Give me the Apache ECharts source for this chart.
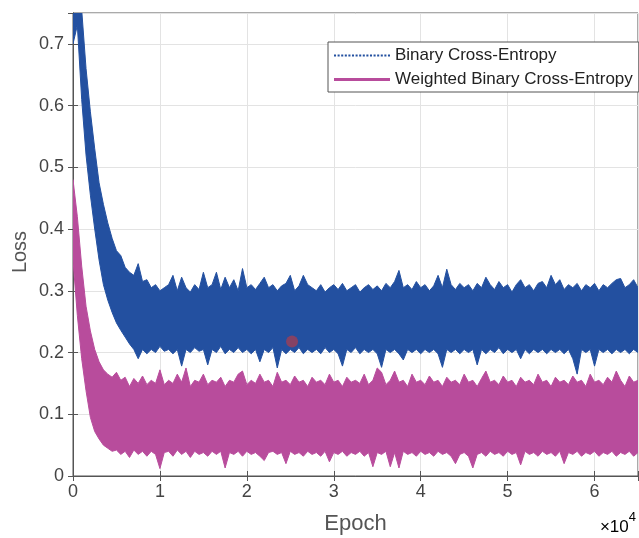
<!DOCTYPE html>
<html>
<head>
<meta charset="utf-8">
<script src="https://cdn.jsdelivr.net/npm/echarts@6/dist/echarts.min.js"></script>
<style>
html, body { margin: 0; padding: 0; background: #fff; }
#chart { width: 639px; height: 538px; }
</style>
</head>
<body>
<div id="chart"></div>
<script>
// sample spacing along the epoch axis (one high/low pair per step)
var step = 500;
var xTicks = ['0', '1', '2', '3', '4', '5', '6'];
var seriesNames = ['Binary Cross-Entropy', 'Weighted Binary Cross-Entropy'];

// local max / min of the BCE curve, every 500 epochs
var bceHigh = [0.85, 0.80, 0.755, 0.66, 0.59, 0.53, 0.475, 0.44, 0.41, 0.385,
    0.365, 0.357, 0.338, 0.33, 0.325, 0.344, 0.315, 0.318, 0.305, 0.31,
    0.30, 0.305, 0.31, 0.325, 0.30, 0.322, 0.305, 0.298, 0.31, 0.302,
    0.33, 0.305, 0.31, 0.33, 0.302, 0.322, 0.305, 0.318, 0.30, 0.336,
    0.305, 0.31, 0.302, 0.312, 0.322, 0.305, 0.31, 0.30, 0.308, 0.312,
    0.325, 0.30, 0.308, 0.325, 0.31, 0.305, 0.30, 0.31, 0.298, 0.305,
    0.31, 0.302, 0.312, 0.30, 0.305, 0.31, 0.298, 0.305, 0.31, 0.302,
    0.308, 0.30, 0.312, 0.305, 0.315, 0.333, 0.305, 0.31, 0.302, 0.315,
    0.305, 0.31, 0.30, 0.308, 0.325, 0.305, 0.335, 0.31, 0.302, 0.312,
    0.305, 0.31, 0.30, 0.312, 0.305, 0.322, 0.31, 0.302, 0.315, 0.305,
    0.31, 0.298, 0.31, 0.318, 0.305, 0.31, 0.30, 0.312, 0.315, 0.305,
    0.325, 0.31, 0.318, 0.302, 0.31, 0.305, 0.312, 0.30, 0.31, 0.305,
    0.312, 0.30, 0.31, 0.305, 0.312, 0.318, 0.32, 0.305, 0.31, 0.318, 0.305];
var bceLow = [0.70, 0.73, 0.61, 0.52, 0.455, 0.40, 0.35, 0.31, 0.285, 0.265,
    0.248, 0.236, 0.225, 0.214, 0.205, 0.19, 0.205, 0.198, 0.205, 0.20,
    0.21, 0.202, 0.205, 0.198, 0.205, 0.178, 0.205, 0.20, 0.208, 0.202,
    0.205, 0.18, 0.205, 0.20, 0.21, 0.198, 0.205, 0.20, 0.208, 0.20,
    0.205, 0.198, 0.205, 0.185, 0.205, 0.20, 0.208, 0.175, 0.205, 0.198,
    0.205, 0.20, 0.208, 0.198, 0.205, 0.20, 0.205, 0.198, 0.208, 0.20,
    0.205, 0.198, 0.178, 0.205, 0.20, 0.208, 0.198, 0.205, 0.20, 0.205,
    0.198, 0.176, 0.205, 0.20, 0.205, 0.198, 0.188, 0.205, 0.20, 0.205,
    0.198, 0.205, 0.20, 0.205, 0.198, 0.176, 0.205, 0.20, 0.205, 0.198,
    0.205, 0.20, 0.205, 0.18, 0.205, 0.198, 0.205, 0.20, 0.208, 0.198,
    0.205, 0.20, 0.205, 0.19, 0.205, 0.198, 0.205, 0.20, 0.205, 0.198,
    0.205, 0.20, 0.205, 0.198, 0.205, 0.19, 0.165, 0.205, 0.20, 0.205,
    0.178, 0.205, 0.20, 0.205, 0.198, 0.205, 0.20, 0.205, 0.198, 0.205, 0.20];

// local max / min of the weighted BCE curve
var wbceHigh = [0.48, 0.42, 0.34, 0.275, 0.235, 0.205, 0.185, 0.172, 0.165, 0.16,
    0.168, 0.155, 0.16, 0.145, 0.158, 0.15, 0.162, 0.148, 0.155, 0.15,
    0.172, 0.148, 0.155, 0.15, 0.165, 0.152, 0.175, 0.145, 0.155, 0.152,
    0.165, 0.148, 0.155, 0.152, 0.16, 0.145, 0.155, 0.152, 0.165, 0.17,
    0.148, 0.155, 0.15, 0.165, 0.152, 0.155, 0.145, 0.168, 0.152, 0.155,
    0.148, 0.162, 0.152, 0.155, 0.145, 0.16, 0.152, 0.155, 0.148, 0.165,
    0.152, 0.155, 0.145, 0.16, 0.152, 0.155, 0.15, 0.165, 0.148, 0.155,
    0.175, 0.168, 0.148, 0.155, 0.17, 0.152, 0.155, 0.145, 0.165, 0.152,
    0.155, 0.148, 0.162, 0.152, 0.155, 0.145, 0.16, 0.152, 0.155, 0.148,
    0.165, 0.152, 0.155, 0.145, 0.158, 0.17, 0.152, 0.155, 0.148, 0.162,
    0.152, 0.155, 0.145, 0.16, 0.152, 0.155, 0.148, 0.165, 0.152, 0.155,
    0.145, 0.16, 0.152, 0.155, 0.148, 0.162, 0.152, 0.155, 0.145, 0.165,
    0.152, 0.155, 0.148, 0.16, 0.152, 0.17, 0.155, 0.145, 0.162, 0.152, 0.155];
var wbceLow = [0.35, 0.26, 0.19, 0.138, 0.095, 0.072, 0.06, 0.05, 0.045, 0.04,
    0.042, 0.035, 0.04, 0.03, 0.042, 0.035, 0.04, 0.032, 0.04, 0.035,
    0.012, 0.038, 0.04, 0.032, 0.042, 0.035, 0.04, 0.03, 0.04, 0.035,
    0.038, 0.032, 0.04, 0.035, 0.04, 0.013, 0.038, 0.035, 0.04, 0.032,
    0.04, 0.035, 0.038, 0.032, 0.025, 0.038, 0.04, 0.035, 0.038, 0.02,
    0.04, 0.035, 0.038, 0.032, 0.04, 0.035, 0.038, 0.032, 0.04, 0.023,
    0.038, 0.035, 0.04, 0.032, 0.038, 0.035, 0.04, 0.032, 0.038, 0.015,
    0.038, 0.035, 0.04, 0.015, 0.038, 0.013, 0.04, 0.035, 0.038, 0.032,
    0.04, 0.035, 0.038, 0.032, 0.04, 0.035, 0.038, 0.032, 0.02, 0.035,
    0.038, 0.032, 0.013, 0.035, 0.038, 0.032, 0.04, 0.035, 0.038, 0.032,
    0.04, 0.035, 0.038, 0.018, 0.04, 0.035, 0.038, 0.032, 0.04, 0.035,
    0.038, 0.032, 0.04, 0.02, 0.038, 0.035, 0.04, 0.032, 0.038, 0.035,
    0.04, 0.032, 0.038, 0.035, 0.04, 0.032, 0.038, 0.035, 0.04, 0.032, 0.038];

// the single highlighted point on the BCE band
var markPoint = [25200, 0.218];

var blue = '#2350a0';
var pink = '#b84c9c';
var axisColor = '#555';
var font = '"Liberation Sans", Arial, sans-serif';

// one item per sample: [epoch, low, high]; the band is drawn as one polygon
function band(color, high, low) {
    var rows = high.map(function (v, i) { return [i * step, low[i], v]; });
    return {
        type: 'custom', silent: true, clip: true,
        encode: {x: 0, y: [1, 2]},
        renderItem: function (params, api) {
            if (params.dataIndex !== 0) return null;
            var top = [], bottom = [];
            rows.forEach(function (r) {
                top.push(api.coord([r[0], r[2]]));
                bottom.unshift(api.coord([r[0], r[1]]));
            });
            return {
                type: 'polygon',
                shape: {points: top.concat(bottom)},
                style: {fill: color, stroke: color, lineWidth: 1}
            };
        },
        data: rows
    };
}

// legend glyph: a dotted line
var dots = 'path://';
for (var k = 0; k < 16; k++) dots += 'M' + (k * 3.5) + ',0h2v2h-2z';

var chart = echarts.init(document.getElementById('chart'));
var option = {
    animation: false,
    grid: {left: 73, right: 1, top: 13, bottom: 62, outerBoundsMode: 'none',
        show: true, borderColor: axisColor, borderWidth: 1},
    legend: {
        orient: 'vertical',
        left: 328, top: 42,
        padding: [4, 6, 3, 6],
        itemGap: 5,
        itemWidth: 56, itemHeight: 3,
        backgroundColor: '#fff',
        borderColor: '#555', borderWidth: 1,
        textStyle: {fontFamily: font, fontSize: 17, color: '#222', lineHeight: 19},
        data: [
            {name: seriesNames[0], icon: dots},
            {name: seriesNames[1], icon: 'rect'}
        ]
    },
    xAxis: [{
        type: 'value', min: 0, max: 65000, interval: 10000,
        name: 'Epoch', nameLocation: 'middle', nameGap: 37,
        nameTextStyle: {fontFamily: font, fontSize: 22, color: '#555'},
        axisLine: {show: true, lineStyle: {color: axisColor}},
        axisTick: {inside: true, length: 5, lineStyle: {color: axisColor}},
        axisLabel: {fontFamily: font, fontSize: 18, color: '#444', margin: 7,
            formatter: function (v) { return xTicks[v / 10000]; }},
        splitLine: {show: true, lineStyle: {color: '#e3e3e3'}}
    }, {
        type: 'value', min: 0, max: 65000, interval: 10000, position: 'top',
        axisLine: {show: true, lineStyle: {color: axisColor}},
        axisTick: {inside: true, length: 5, lineStyle: {color: axisColor}},
        axisLabel: {show: false}, splitLine: {show: false}
    }],
    yAxis: [{
        type: 'value', min: 0, max: 0.75, interval: 0.1,
        axisLine: {show: true, lineStyle: {color: axisColor}},
        axisTick: {inside: true, length: 5, lineStyle: {color: axisColor}},
        axisLabel: {fontFamily: font, fontSize: 18, color: '#444', margin: 9,
            formatter: function (v) { return v > 0.72 ? '' : +v.toFixed(1); }},
        splitLine: {show: true, lineStyle: {color: '#e3e3e3'}}
    }, {
        type: 'value', min: 0, max: 0.75, interval: 0.1, position: 'right',
        axisLine: {show: true, lineStyle: {color: axisColor}},
        axisTick: {inside: true, length: 5, lineStyle: {color: axisColor}},
        axisLabel: {show: false}, splitLine: {show: false}
    }],
    series: [
        band(blue, bceHigh, bceLow),
        band(pink, wbceHigh, wbceLow),
        // legend entries only
        {name: seriesNames[0], type: 'line', symbol: 'none', data: [], itemStyle: {color: blue}},
        {name: seriesNames[1], type: 'line', symbol: 'none', data: [], itemStyle: {color: pink}},
        {
            type: 'scatter', symbolSize: 12, z: 5, silent: true,
            itemStyle: {color: 'rgb(175,60,75)', opacity: 0.7},
            data: [markPoint]
        }
    ],
    graphic: [{
        type: 'text', x: 20, y: 252, rotation: Math.PI / 2,
        style: {text: 'Loss', fontFamily: font, fontSize: 20, fill: '#555', align: 'center', verticalAlign: 'middle'}
    }, {
        type: 'text', right: 3, top: 511,
        style: {
            text: '{a|×10}{b|4}',
            rich: {
                a: {fontFamily: font, fontSize: 17, color: '#444', verticalAlign: 'bottom', padding: [8, 0, 0, 0]},
                b: {fontFamily: font, fontSize: 13, color: '#444', verticalAlign: 'top'}
            }
        }
    }]
};
chart.setOption(option);
</script>
</body>
</html>
